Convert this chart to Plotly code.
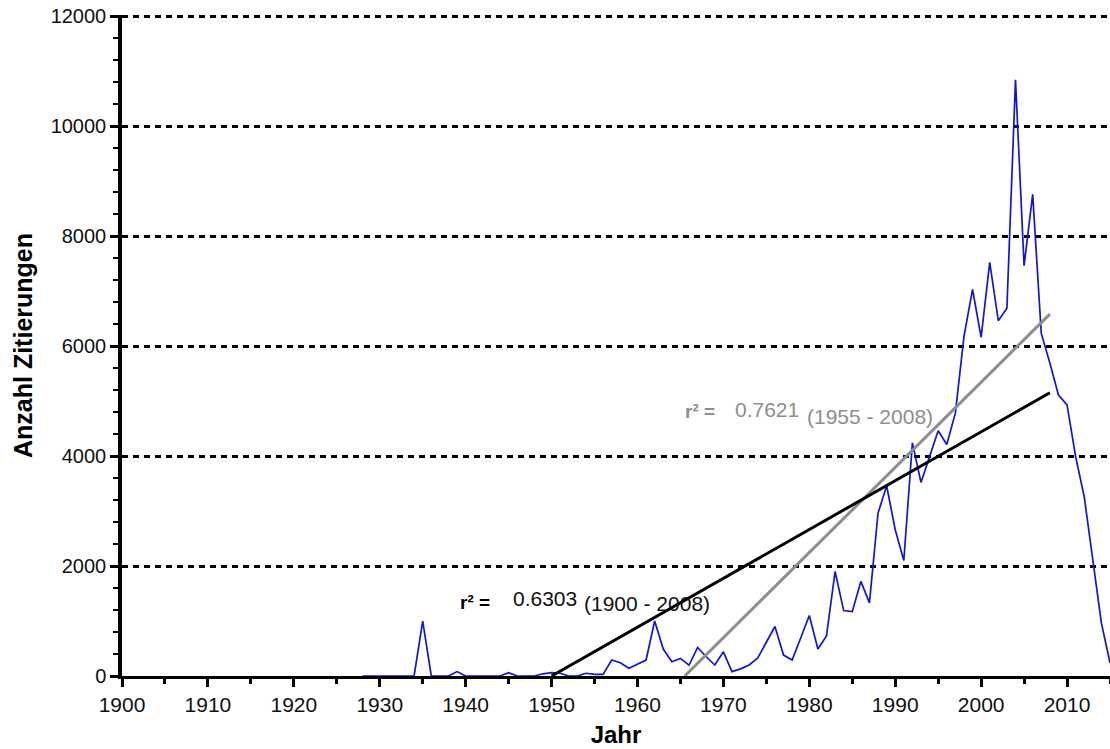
import plotly.graph_objects as go

# Citations per year
years = list(range(1928, 2016))
citations = [
    0, 0, 0, 0, 0, 0, 0, 1000, 0, 0,            # 1928-1937
    0, 80, 0, 0, 0, 0, 0, 60, 0, 0,             # 1938-1947
    0, 40, 60, 50, 0, 0, 50, 30, 30, 290,       # 1948-1957
    240, 140, 210, 290, 1000, 490, 260, 320, 195, 520,   # 1958-1967
    350, 200, 440, 80, 130, 200, 330, 620, 900, 380,     # 1968-1977
    290, 690, 1100, 490, 730, 1900, 1190, 1170, 1720, 1330,  # 1978-1987
    2960, 3460, 2660, 2100, 4240, 3520, 3990, 4460, 4210, 4780,  # 1988-1997
    6170, 7030, 6160, 7520, 6460, 6690, 10840, 7460, 8760, 6230,  # 1998-2007
    5690, 5110, 4930, 3990, 3260, 2110, 960, 240,  # 2008-2015
]

# Linear fits (clipped at zero)
fit_all_x = [1950, 2008]
fit_all_y = [0, 5150]
fit_recent_x = [1965.5, 2008]
fit_recent_y = [0, 6580]

y_ticks = [0, 2000, 4000, 6000, 8000, 10000, 12000]
x_ticks = list(range(1900, 2011, 10))

FONT = "Arial, Liberation Sans, sans-serif"
GREY = "#8e8e8e"

fig = go.Figure()
fig.add_trace(go.Scatter(x=years, y=citations, mode="lines",
                         line=dict(color="#1414d8", width=1.7), showlegend=False))
fig.add_trace(go.Scatter(x=fit_recent_x, y=fit_recent_y, mode="lines",
                         line=dict(color=GREY, width=3), showlegend=False))
fig.add_trace(go.Scatter(x=fit_all_x, y=fit_all_y, mode="lines",
                         line=dict(color="black", width=3), showlegend=False))

def label(x, y, text, color, size=21, bold=False):
    fig.add_annotation(x=x, y=y, xref="x", yref="y", text=f"<b>{text}</b>" if bold else text,
                       showarrow=False, xanchor="left", yanchor="middle",
                       font=dict(family=FONT, size=size, color=color))

label(1939.1, 1345, "r² =", "black", 19, True)
label(1945.3, 1418, "0.6303", "#111111")
label(1953.5, 1327, "(1900 - 2008)", "#111111")
label(1965.3, 4818, "r² =", GREY, 19, True)
label(1971.1, 4855, "0.7621", GREY)
label(1979.5, 4727, "(1955 - 2008)", GREY)

fig.update_layout(
    width=1110, height=749,
    margin=dict(l=122, r=0, t=15, b=73),
    paper_bgcolor="white", plot_bgcolor="white",
    font=dict(family=FONT, color="#111111"),
)
fig.update_xaxes(
    range=[1900, 2015], tickvals=x_ticks, ticks="outside", ticklen=8, tickwidth=2.5,
    tickcolor="black", showline=True, linecolor="black", linewidth=2.5,
    showgrid=False, zeroline=False, tickfont=dict(size=21),
    minor=dict(dtick=5, tick0=1900, ticks="outside", ticklen=5, tickwidth=2.5, tickcolor="black"),
    title=dict(text="<b>Jahr</b>", font=dict(size=24, color="black"), standoff=12),
)
fig.update_yaxes(
    range=[0, 12020], tickvals=y_ticks, tickformat="d", ticks="outside", ticklen=8, tickwidth=2.5,
    tickcolor="black", showline=True, linecolor="black", linewidth=3.5,
    showgrid=True, gridcolor="black", gridwidth=2.5, griddash="6px,5px",
    zeroline=False, tickfont=dict(size=20),
    minor=dict(dtick=400, tick0=0, ticks="outside", ticklen=5, tickwidth=2, tickcolor="black",
               showgrid=False),
    title=dict(text="<b>Anzahl Zitierungen</b>", font=dict(size=25, color="black"), standoff=12),
)

fig.write_html("out.html")
